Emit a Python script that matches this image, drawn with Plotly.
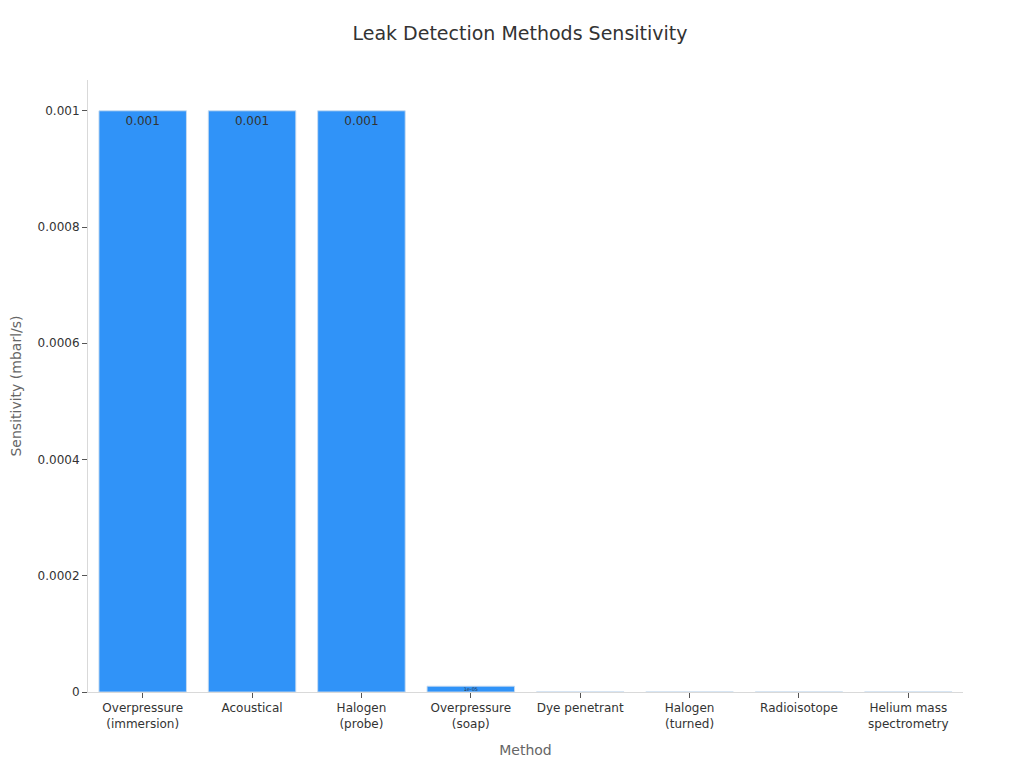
import plotly.graph_objects as go

methods = ["Overpressure<br>(immersion)", "Acoustical", "Halogen<br>(probe)", "Overpressure<br>(soap)",
           "Dye penetrant", "Halogen<br>(turned)", "Radioisotope", "Helium mass<br>spectrometry"]
sensitivity = [1e-3, 1e-3, 1e-3, 1e-5, 1e-7, 1e-8, 1e-9, 1e-12]

fig = go.Figure(go.Bar(
    x=methods, y=sensitivity,
    marker=dict(color="#3093f8", line=dict(color="rgba(200,220,240,0.9)", width=1)),
    text=[f"{v:g}" for v in sensitivity], textposition="inside", insidetextanchor="end",
    textfont=dict(color="#333333", size=12),
))

fig.update_layout(
    width=1024, height=768,
    paper_bgcolor="white", plot_bgcolor="white",
    font=dict(family="DejaVu Sans, sans-serif", color="#333333", size=12),
    title=dict(text="Leak Detection Methods Sensitivity", x=0.5, xanchor="center", y=0.976,
               font=dict(size=19, color="#333333")),
    margin=dict(l=80, r=69, t=72, b=84),
    bargap=0.2,
    xaxis=dict(title=dict(text="Method", font=dict(color="#666666", size=14)),
               showline=True, linecolor="#d9d9d9", ticks="outside", tickcolor="#555555",
               ticklen=5, showgrid=False),
    yaxis=dict(title=dict(text="Sensitivity (mbarl/s)", font=dict(color="#666666", size=14)),
               automargin=False,
               showline=True, linecolor="#d9d9d9", ticks="outside", tickcolor="#555555",
               ticklen=5, showgrid=False, zeroline=False, range=[0, 0.001053],
               tickformat=".4~f", dtick=0.0002),
)

fig.write_html("out.html")
